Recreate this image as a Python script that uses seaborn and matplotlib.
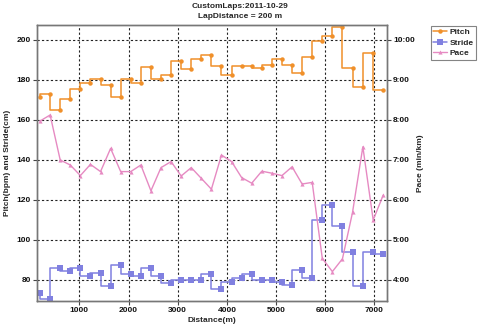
import matplotlib
matplotlib.use("Agg")
import matplotlib.pyplot as plt
from matplotlib.ticker import FuncFormatter, FixedLocator
from matplotlib.lines import Line2D
import numpy as np
import pandas as pd
import seaborn as sns

# Cumulative lap distance (m)
distance = [200, 405, 610, 815, 1020, 1225, 1430, 1635, 1840, 2045,
            2250, 2455, 2660, 2865, 3070, 3275, 3480, 3685, 3890, 4095,
            4300, 4505, 4710, 4915, 5120, 5325, 5530, 5735, 5940, 6145,
            6350, 6555, 6765, 6975, 7180]

# Cadence per lap (steps per minute)
pitch = [171.7, 172.8, 165.0, 170.5, 175.3, 178.3, 180.5, 177.5, 171.3, 180.5,
         178.3, 186.3, 180.5, 182.5, 189.5, 185.5, 190.5, 192.5, 187.2, 182.5,
         187.2, 187.2, 186.2, 187.3, 190.5, 187.3, 183.3, 191.3, 199.7, 202.2,
         206.7, 185.8, 176.3, 193.5, 175.2]

# Stride length per lap (cm)
stride = [73.3, 70.5, 86.2, 84.7, 86.2, 82.0, 83.3, 77.2, 87.3, 83.0,
          82.0, 86.2, 82.0, 78.7, 80.0, 80.0, 80.0, 82.8, 75.3, 78.8,
          81.0, 82.8, 80.0, 80.0, 78.8, 77.7, 85.0, 81.0, 110.0, 117.3,
          107.0, 94.0, 77.0, 94.0, 93.0]

# Pace per lap (minutes per km)
pace = [7.975, 8.125, 7.00, 6.875, 6.61, 6.89, 6.71, 7.29, 6.71, 6.71,
        6.875, 6.23, 6.81, 6.96, 6.60, 6.81, 6.54, 6.27, 7.125, 6.96,
        6.56, 6.42, 6.72, 6.67, 6.61, 6.83, 6.40, 6.44, 4.54, 4.21,
        4.53, 5.69, 7.33, 5.50, 6.125]

x_ticks = [1000, 2000, 3000, 4000, 5000, 6000, 7000]
left_ticks = [80, 100, 120, 140, 160, 180, 200]
pace_ticks = [4, 5, 6, 7, 8, 9, 10]

PITCH_C = "#F0902A"
STRIDE_C = "#8080E0"
PACE_C = "#E68AC2"

df = pd.DataFrame({"distance": distance, "pitch": pitch,
                   "stride": stride, "pace": pace})

sns.set_theme(style="white")
plt.rcParams["font.family"] = ["Liberation Sans", "DejaVu Sans"]
plt.rcParams["font.weight"] = "bold"

fig = plt.figure(figsize=(4.8, 3.29), dpi=100)
ax = fig.add_axes([37 / 480, 1 - 301 / 329, 349.7 / 480, 276 / 329])
ax2 = ax.twinx()

sns.lineplot(data=df, x="distance", y="pitch", ax=ax, color=PITCH_C,
             drawstyle="steps-pre", marker="o", markersize=3.2,
             markeredgewidth=0, linewidth=1.1, estimator=None, legend=False)
sns.lineplot(data=df, x="distance", y="stride", ax=ax, color=STRIDE_C,
             drawstyle="steps-pre", marker="s", markersize=3.8,
             markeredgewidth=0, linewidth=1.1, estimator=None, legend=False)
sns.lineplot(data=df, x="distance", y="pace", ax=ax2, color=PACE_C,
             marker="^", markersize=3.0, markeredgewidth=0, linewidth=1.0,
             estimator=None, legend=False)

ylo, yhi = 69.5, 207.5
ax.set_xlim(138, 7250)
ax.set_ylim(ylo, yhi)
ax2.set_ylim(ylo / 20, yhi / 20)

ax.xaxis.set_major_locator(FixedLocator(x_ticks))
ax.yaxis.set_major_locator(FixedLocator(left_ticks))
ax2.yaxis.set_major_locator(FixedLocator(pace_ticks))
ax2.yaxis.set_major_formatter(
    FuncFormatter(lambda v, p: f"{int(v)}:{int(round((v - int(v)) * 60)):02d}"))

ax.grid(True, color="#222222", linestyle=(0, (2, 2)), linewidth=0.8)
ax2.grid(False)

for a in (ax, ax2):
    for s in a.spines.values():
        s.set_color("#777777")
        s.set_linewidth(1.0)
    a.tick_params(labelsize=6, length=3, width=0.8, pad=1.5,
                  color="#444444", labelcolor="#111111")
ax.tick_params(axis="both", direction="out", left=True, bottom=True)
ax2.tick_params(axis="y", direction="out", right=True)

ax.set_xlabel("Distance(m)", fontsize=6, fontweight="bold", labelpad=2)
ax.set_ylabel("Pitch(bpm) and Stride(cm)", fontsize=6, fontweight="bold",
              labelpad=4)
ax2.set_ylabel("Pace (min/km)", fontsize=6, fontweight="bold", labelpad=2)

fig.text(0.5, 1 - 6.5 / 329, "CustomLaps:2011-10-29", ha="center",
         va="center", fontsize=6, fontweight="bold")
fig.text(0.5, 1 - 16 / 329, "LapDistance = 200 m", ha="center",
         va="center", fontsize=6, fontweight="bold")

handles = [
    Line2D([], [], color=PITCH_C, marker="o", markersize=3.2,
           markeredgewidth=0, linewidth=1.1),
    Line2D([], [], color=STRIDE_C, marker="s", markersize=3.8,
           markeredgewidth=0, linewidth=1.1),
    Line2D([], [], color=PACE_C, marker="^", markersize=3.0,
           markeredgewidth=0, linewidth=1.0),
]
leg = fig.legend(handles, ["Pitch", "Stride", "Pace"], loc="upper left",
                 bbox_to_anchor=(430.5 / 480, 1 - 25.5 / 329),
                 prop={"size": 6, "weight": "bold"}, frameon=True,
                 fancybox=False, handlelength=1.7, handletextpad=0.25,
                 labelspacing=0.35, borderpad=0.3, borderaxespad=0)
leg.get_frame().set_edgecolor("#666666")
leg.get_frame().set_linewidth(0.8)

fig.savefig("out.png", dpi=100)
